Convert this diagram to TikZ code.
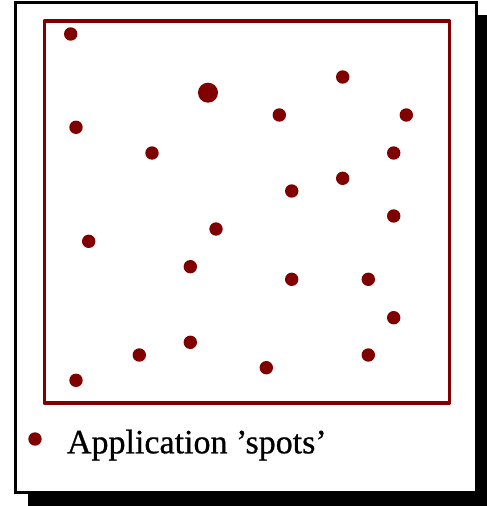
\documentclass[tikz,border=0pt]{standalone}
\usepackage{fontspec}
\setmainfont{Liberation Serif}
\newfontfamily\legendfont[FakeBold=0.7]{Liberation Serif}
\definecolor{spotred}{HTML}{800000}
\begin{document}
\begin{tikzpicture}[x=1pt,y=-1pt,
  spot/.style={circle,fill=spotred,inner sep=0pt,minimum size=13.4pt},
  bigspot/.style={circle,fill=spotred,inner sep=0pt,minimum size=20pt}]
\useasboundingbox (0,0) rectangle (487,506);
\begin{scope}
\clip (0,0) rectangle (487,506);
\fill[black] (28,15) rectangle (492,508);
\end{scope}
\draw[black,line width=3pt,fill=white] (15.5,2.5) rectangle (476.5,492.5);
\draw[spotred,line width=3.5pt,line join=round] (44.3,21) rectangle (449.5,403);
\node[spot] (s1) at (70.7,34) {};
\node[bigspot] (s2) at (208,92.7) {};
\node[spot] (s3) at (342.7,77) {};
\node[spot] (s4) at (76,127.3) {};
\node[spot] (s5) at (279.3,115) {};
\node[spot] (s6) at (406.3,115) {};
\node[spot] (s7) at (152,153) {};
\node[spot] (s8) at (393.7,153) {};
\node[spot] (s9) at (342.7,178.3) {};
\node[spot] (s10) at (291.7,191) {};
\node[spot] (s11) at (393.7,216) {};
\node[spot] (s12) at (216,229) {};
\node[spot] (s13) at (88.7,241.3) {};
\node[spot] (s14) at (190.3,266.7) {};
\node[spot] (s15) at (291.7,279.3) {};
\node[spot] (s16) at (368.3,279.3) {};
\node[spot] (s17) at (393.7,317.7) {};
\node[spot] (s18) at (190.3,342.3) {};
\node[spot] (s19) at (139.3,355) {};
\node[spot] (s20) at (368.3,355) {};
\node[spot] (s21) at (266.3,367.7) {};
\node[spot] (s22) at (76,380.3) {};
\node[spot] (legdot) at (35,439) {};
\node[anchor=base west,inner sep=0pt,font=\legendfont\fontsize{34}{38}\selectfont] (legtext) at (66.8,453.3) {Application ’spots’};
\end{tikzpicture}
\end{document}
